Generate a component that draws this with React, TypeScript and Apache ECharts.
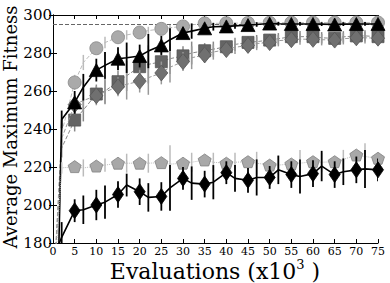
import React, { useEffect, useRef } from 'react';
import * as echarts from 'echarts';

// Evaluations (x10^3) at which each run was sampled
const evaluations = [0, 2, 5, 7, 10, 12, 15, 17, 20, 22, 25, 27, 30, 32, 35, 37, 40, 42, 45, 47, 50, 52, 55, 57, 60, 62, 65, 67, 70, 72, 75];

const targetFitness = 295;

// light gray circles
const circleMean = [150, 238, 264.5, 275, 282.5, 285.5, 288.3, 289.5, 290.8, 291.8, 292.7, 293.3, 294, 294.8, 295.6, 295.6, 295.7, 295.7, 295.8, 295.8, 295.9, 295.9, 296, 296, 296, 296, 296, 296, 296, 296, 296];
const circleErr = [0, 5, 4, 4, 3, 3, 2.5, 2.5, 2, 2, 1.5, 1.5, 1, 1, 0.5, 0.5, 0.5, 0.5, 0.5, 0.5, 0.5, 0.5, 0.5, 0.5, 0.5, 0.5, 0.5, 0.5, 0.5, 0.5, 0.5];

// dark gray squares
const squareMean = [150, 230, 244.7, 250, 258.4, 260, 264.9, 268, 272.8, 274, 275.4, 277, 278.5, 280, 281.2, 282, 283.3, 284.5, 285.6, 286, 286.8, 287.5, 288.6, 288.6, 288.6, 288, 287.7, 288.5, 289, 289, 288.6];
const squareErr = [0, 5, 6, 6, 5, 7, 6, 8, 7, 10, 6, 8, 5, 6, 4, 4, 3, 3.5, 3, 3.5, 3, 3, 2.5, 3, 2.5, 3, 2.5, 3, 2.5, 3, 2.5];

// gray diamonds
const diamondMean = [150, 235, 252.8, 255, 257.5, 259.5, 262.3, 263.5, 265.2, 267, 269.5, 272.5, 275.5, 277.5, 279, 280.5, 281.8, 283, 284, 285, 285.5, 286.5, 287, 287.3, 287.2, 287, 286.8, 287.5, 288, 288, 287.8];
const diamondErr = [0, 5, 5, 6, 5, 6, 5, 8, 6, 9, 6, 8, 5, 6, 4, 4, 3, 3.5, 3, 3.5, 3, 3, 2.5, 3, 2.5, 3, 2.5, 3, 2.5, 3, 2.5];

// black triangles
const triangleMean = [40, 245, 254, 262, 271, 273.5, 277, 277.5, 278.4, 281, 284, 287, 290.5, 291.5, 293, 293.8, 294, 294.3, 294.7, 295, 295.5, 295.4, 295.3, 295.3, 295.3, 295.2, 295, 295.2, 295.3, 295.3, 295.3];
const triangleErr = [0, 4.7, 6, 7, 6, 7, 6, 8, 6, 9, 5, 6, 3, 4, 2, 2, 1.5, 1.5, 1.2, 1.2, 1, 1, 1, 1, 1, 1, 1, 1, 1, 1, 1];

// light gray pentagons
const pentagonMean = [150, 219.5, 220.2, 219.5, 220.5, 221, 222, 222, 222, 222, 222.3, 221.5, 222, 222.5, 223.7, 222.5, 222, 222.5, 222.8, 222, 221, 221, 221.6, 222, 222.8, 222.5, 222.8, 224, 226.3, 225.5, 224.6];
const pentagonErr = [0, 3, 2, 4.5, 2, 3.5, 2, 5, 2, 5, 2, 10, 2, 5, 2, 5, 2, 5, 2, 6, 2, 5, 2, 7, 2, 5, 2, 5, 2, 7, 2];

// black diamonds
const blackMean = [172, 183, 197, 197.5, 200, 201.5, 205.5, 210.5, 207, 204, 204.5, 209, 214, 211.5, 211, 212, 217, 214, 213, 214.5, 214.5, 218.5, 216, 215, 216.5, 220.5, 216, 217.5, 218.5, 219, 218.5];
const blackErr = [0, 8, 6, 7.5, 8, 8.8, 7, 6, 7, 7.5, 7.5, 12, 6, 8.8, 7, 9, 6, 7, 6.5, 9.5, 6, 7.5, 7, 9, 7, 8, 7, 7, 7, 10, 6];

const PENTAGON = 'path://M50,0 L97.55,34.55 L79.39,90.45 L20.61,90.45 L2.45,34.55 Z';

type Spec = {
  mean: number[];
  err: number[];
  lineColor: string;
  lineType: 'solid' | 'dashed' | 'dotted';
  lineWidth: number;
  barColor: string;
  barWidth: number;
  symbol: string;
  symbolSize: number | number[];
  fill: string;
  edge: string;
};

const specs: Spec[] = [
  { mean: circleMean, err: circleErr, lineColor: '#bbbbbb', lineType: 'dashed', lineWidth: 1, barColor: '#bbbbbb', barWidth: 1.5, symbol: 'circle', symbolSize: 13, fill: '#aaaaaa', edge: '#888888' },
  { mean: squareMean, err: squareErr, lineColor: '#888888', lineType: 'dashed', lineWidth: 1, barColor: '#888888', barWidth: 1.5, symbol: 'rect', symbolSize: 12, fill: '#646464', edge: '#555555' },
  { mean: diamondMean, err: diamondErr, lineColor: '#999999', lineType: 'dashed', lineWidth: 1, barColor: '#999999', barWidth: 1.5, symbol: 'diamond', symbolSize: [13, 16], fill: '#707070', edge: '#555555' },
  { mean: triangleMean, err: triangleErr, lineColor: '#000000', lineType: 'solid', lineWidth: 1.6, barColor: '#000000', barWidth: 1.8, symbol: 'triangle', symbolSize: [14, 13], fill: '#000000', edge: '#000000' },
  { mean: pentagonMean, err: pentagonErr, lineColor: '#bbbbbb', lineType: 'dotted', lineWidth: 1, barColor: '#bbbbbb', barWidth: 1.5, symbol: PENTAGON, symbolSize: [13, 12], fill: '#a8a8a8', edge: '#808080' },
  { mean: blackMean, err: blackErr, lineColor: '#000000', lineType: 'solid', lineWidth: 1.6, barColor: '#000000', barWidth: 1.8, symbol: 'diamond', symbolSize: [11, 16], fill: '#000000', edge: '#000000' },
];

const FONT = 'DejaVu Serif';

export default function App() {
  const ref = useRef<HTMLDivElement>(null);
  useEffect(() => {
    document.body.style.margin = '0';
    const chart = echarts.init(ref.current!, null, { renderer: 'svg' });
    const series: any[] = [];
    specs.forEach((s, k) => {
      const z = 2 + k;
      series.push({
        type: 'line',
        data: evaluations.map((x, i) => [x, s.mean[i]]),
        showSymbol: false,
        symbol: 'none',
        clip: true,
        z,
        lineStyle: { color: s.lineColor, width: s.lineWidth, type: s.lineType },
      });
      series.push({
        type: 'custom',
        clip: true,
        z,
        data: evaluations
          .map((x, i) => [x, s.mean[i] - s.err[i], s.mean[i] + s.err[i]])
          .filter((d, i) => s.err[i] > 0),
        renderItem: (params: any, api: any) => {
          const x = api.value(0);
          const p1 = api.coord([x, api.value(1)]);
          const p2 = api.coord([x, api.value(2)]);
          return {
            type: 'line',
            shape: { x1: p1[0], y1: p1[1], x2: p2[0], y2: p2[1] },
            style: { stroke: s.barColor, lineWidth: s.barWidth },
          };
        },
      });
      series.push({
        type: 'scatter',
        clip: true,
        z,
        symbol: s.symbol,
        symbolSize: s.symbolSize,
        data: evaluations
          .map((x, i) => [x, s.mean[i]])
          .filter((d) => d[0] > 0 && d[0] % 5 === 0),
        itemStyle: { color: s.fill, borderColor: s.edge, borderWidth: 0.8, opacity: 1 },
      });
    });
    series.push({
      type: 'line',
      data: [[0, targetFitness], [75, targetFitness]],
      showSymbol: false,
      symbol: 'none',
      z: 1,
      lineStyle: { color: '#666666', width: 1.2, type: [4, 2] },
    });

    const axisCommon = {
      type: 'value',
      axisLine: { show: true, lineStyle: { color: '#000', width: 1 } },
      axisTick: { show: true, inside: true, length: 4, lineStyle: { color: '#000', width: 1 } },
      splitLine: { show: false },
    };

    chart.setOption({
      animation: false,
      grid: { left: 53, right: 12, top: 15, bottom: 40 },
      xAxis: [
        {
          ...axisCommon,
          position: 'bottom',
          min: 0,
          max: 75,
          interval: 5,
          axisLabel: { show: true, fontSize: 11, fontFamily: FONT, color: '#000', margin: 3, showMinLabel: true, showMaxLabel: true },
        },
        {
          ...axisCommon,
          position: 'top',
          min: 0,
          max: 75,
          interval: 5,
          axisLabel: { show: false },
        },
      ],
      yAxis: [
        {
          ...axisCommon,
          position: 'left',
          min: 180,
          max: 300,
          interval: 20,
          axisLabel: { show: true, fontSize: 15, fontFamily: FONT, color: '#000', margin: 1, showMinLabel: true, showMaxLabel: true },
        },
        {
          ...axisCommon,
          position: 'right',
          min: 180,
          max: 300,
          interval: 20,
          axisLabel: { show: false },
        },
      ],
      graphic: [
        {
          type: 'text',
          x: 10,
          y: 127,
          rotation: Math.PI / 2,
          style: {
            text: 'Average Maximum Fitness',
            fontFamily: FONT,
            fontSize: 18,
            fill: '#000',
            align: 'center',
            verticalAlign: 'middle',
          },
        },
        {
          type: 'text',
          x: 215,
          y: 271,
          style: {
            text: '{a|Evaluations (x10}{b|3}{a| )}',
            align: 'center',
            verticalAlign: 'middle',
            rich: {
              a: { fontFamily: FONT, fontSize: 22, fill: '#000', color: '#000', lineHeight: 26 },
              b: { fontFamily: FONT, fontSize: 13, fill: '#000', color: '#000', verticalAlign: 'top', lineHeight: 26 },
            },
          },
        },
      ],
      series,
    });
    return () => chart.dispose();
  }, []);
  return <div ref={ref} style={{ width: 390, height: 283 }} />;
}
